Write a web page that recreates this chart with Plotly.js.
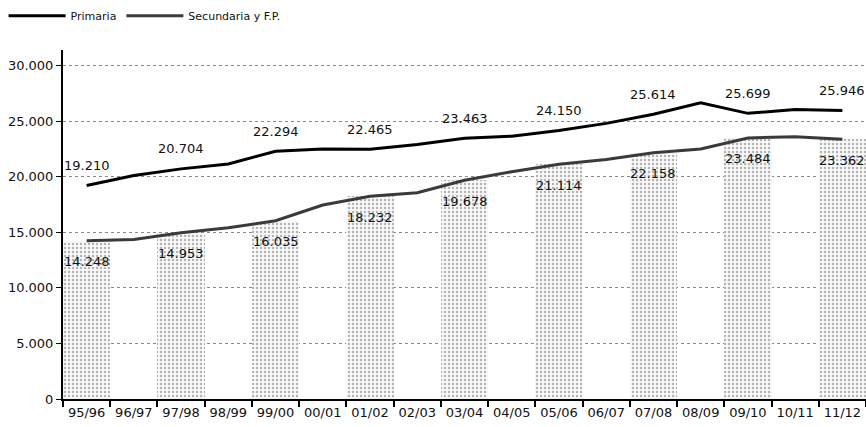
<!DOCTYPE html>
<html>
<head>
<meta charset="utf-8">
<script src="https://cdn.plot.ly/plotly-3.0.1.min.js"></script>
<style>html,body{margin:0;padding:0;background:#fff;}#chart{width:866px;height:427px;}</style>
</head>
<body>
<div id="chart"></div>
<script>
const categories = ["95/96","96/97","97/98","98/99","99/00","00/01","01/02","02/03","03/04","04/05","05/06","06/07","07/08","08/09","09/10","10/11","11/12"];
const primaria   = [19210,20100,20704,21150,22294,22500,22465,22900,23463,23650,24150,24800,25614,26650,25699,26050,25946];
const secundaria = [14248,14350,14953,15400,16035,17450,18232,18550,19678,20450,21114,21550,22158,22500,23484,23600,23362];
const labeledIdx = [0,2,4,6,8,10,12,14,16];

const fmt = v => String(v).replace(/\B(?=(\d{3})+(?!\d))/g, ".");
const FONT = "DejaVu Sans";

const tPrim = {
  type: "scatter", mode: "lines", name: "Primaria",
  x: categories, y: primaria,
  line: {color: "#000", width: 3}
};
const tSec = {
  type: "scatter", mode: "lines", name: "Secundaria y F.P.",
  x: categories, y: secundaria,
  line: {color: "#3a3a3a", width: 3}
};
const bgBars = {
  type: "bar",
  x: labeledIdx.map(i => categories[i]),
  y: labeledIdx.map(i => secundaria[i]),
  marker: {color: "#ffffff", line: {width: 0},
           pattern: {shape: ".", fgcolor: "#b4b4b4", bgcolor: "#fafafa", size: 4, solidity: 0.3}},
  width: 1,
  showlegend: false,
  hoverinfo: "skip"
};

const annotations = [];
labeledIdx.forEach(i => {
  annotations.push({x: categories[i], y: primaria[i], text: fmt(primaria[i]), showarrow: false, yshift: 20, font: {family: FONT, size: 13, color: "#111"}});
  annotations.push({x: categories[i], y: secundaria[i], text: fmt(secundaria[i]), showarrow: false, yshift: -21, font: {family: FONT, size: 13, color: "#111"}});
});

const layout = {
  width: 866, height: 427,
  margin: {l: 63, r: 0, t: 50, b: 28, pad: 0},
  paper_bgcolor: "#fff", plot_bgcolor: "#fff",
  separators: ",.",
  font: {family: FONT, size: 13, color: "#111"},
  showlegend: true,
  legend: {orientation: "h", x: -0.074, xanchor: "left", y: 1.14, yanchor: "top",
           font: {family: FONT, size: 11, color: "#111"}, itemwidth: 57, tracegroupgap: 0,
           bgcolor: "rgba(0,0,0,0)", traceorder: "normal"},
  bargap: 0,
  xaxis: {
    type: "category", categoryorder: "array", categoryarray: categories,
    range: [-0.5, 16.5], tickangle: 0,
    showline: true, linecolor: "#000", linewidth: 2,
    ticks: "outside", tickson: "boundaries", ticklen: 6, tickcolor: "#000", tickwidth: 2,
    showgrid: false, zeroline: false,
    tickfont: {family: FONT, size: 13, color: "#111"}
  },
  yaxis: {
    range: [0, 31400], tickvals: [0,5000,10000,15000,20000,25000,30000], tickformat: ",d",
    showline: true, linecolor: "#000", linewidth: 2,
    ticks: "outside", ticklen: 5, tickcolor: "#000", tickwidth: 1,
    showgrid: true, gridcolor: "#8a8a8a", gridwidth: 1, griddash: "dot",
    zeroline: false,
    tickfont: {family: FONT, size: 13, color: "#111"}
  },
  annotations: annotations
};

Plotly.newPlot("chart", [tPrim, tSec, bgBars], layout, {displayModeBar: false, staticPlot: true});
</script>
</body>
</html>
